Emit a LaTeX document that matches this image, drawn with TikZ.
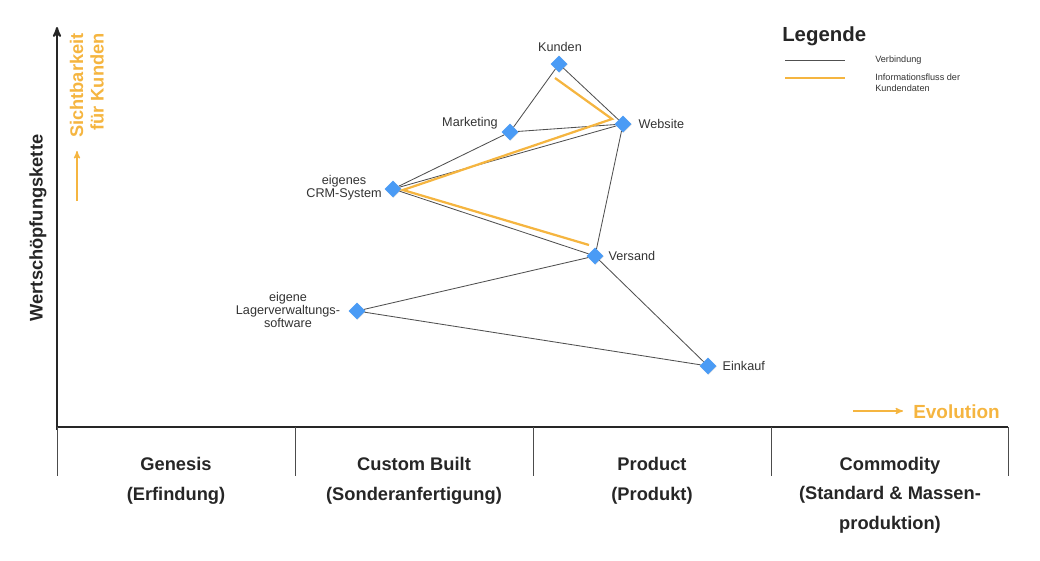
\documentclass[tikz,border=0pt]{standalone}
\usepackage{fontspec}
\setmainfont{Liberation Sans}
\usetikzlibrary{arrows,shapes.geometric,shadows,positioning}
\definecolor{wmblue}{HTML}{4A9BF5}
\definecolor{wmorange}{HTML}{F5B540}
\definecolor{wmgray}{HTML}{505050}
\tikzset{
  comp/.style = {diamond, fill=wmblue, inner sep=0pt, minimum size=0.42cm,
    drop shadow={opacity=0.25, shadow xshift=0.4pt, shadow yshift=-0.4pt}},% Komponente
  lbl/.style = {font=\fontsize{9}{9}\selectfont, text=black!80, align=center,
    inner sep=1pt},% Beschriftung
  link/.style = {draw=wmgray, line width=0.6pt},% Verbindung
  flow/.style = {draw=wmorange, line width=1.6pt, line join=miter},% Informationsfluss
  phase/.style = {font=\fontsize{13}{21}\selectfont\bfseries, text=black!85,
    align=center},% Evolutionsphase
  legtxt/.style = {font=\fontsize{6.5}{7.8}\selectfont, text=black!80,
    align=left, anchor=west, inner sep=0pt}
}

\begin{document}
\begin{tikzpicture}[x=0.025cm, y=-0.025cm, >=stealth']
\useasboundingbox (0,0) rectangle (1040,560);

% Achsen
\draw [->, line width=1.4pt, draw=black!85] (57,430) -- (57,27);
\draw [line width=1.9pt, draw=black!85] (56,427) -- (1008,427);
\foreach \x in {57,295,533,771,1008}
  \draw [line width=0.7pt, draw=black!70] (\x,427) -- (\x,476);

\node [phase] (genesis) at (176,481) {Genesis\\(Erfindung)};
\node [phase] (custom) at (414,481) {Custom Built\\(Sonderanfertigung)};
\node [phase] (product) at (652,481) {Product\\(Produkt)};
\node [phase, anchor=north] (commodity) at (890,452)
  {Commodity\\(Standard \& Massen-\\produktion)};

\node [rotate=90, font=\fontsize{13}{13}\selectfont\bfseries, text=black!85]
  (kette) at (38,228) {Wertschöpfungskette};
\node [rotate=90, anchor=south east, align=right, text=wmorange,
  font=\fontsize{13}{14.5}\selectfont\bfseries, inner sep=0pt]
  (sicht) at (104,33) {Sichtbarkeit\\für Kunden};
\coordinate (s1) at (77,201);
\coordinate (s2) at (77,151);
\draw [->, wmorange, line width=0.9pt] (s1) -- (s2);

\node [anchor=east, text=wmorange, font=\fontsize{13.5}{13.5}\selectfont\bfseries,
  inner sep=0pt] (evo) at (1000,412) {Evolution};
\coordinate (e1) at (853,411);
\coordinate (e2) at (903,411);
\draw [->, wmorange, line width=0.9pt] (e1) -- (e2);

% Legende
\node [anchor=west, font=\fontsize{14.5}{14.5}\selectfont\bfseries, text=black!85,
  inner sep=0pt] (legende) at (782,36) {Legende};
\coordinate (l1) at (785,60);
\coordinate (l2) at (845,60);
\coordinate (l3) at (785,78);
\coordinate (l4) at (845,78);
\draw [link] (l1) -- (l2);
\draw [flow] (l3) -- (l4);
\node [legtxt] (verb) at (875,60) {Verbindung};
\node [legtxt] (info) at (875,82.5) {Informationsfluss der\\Kundendaten};

% Komponenten
\node [comp] (kunden) at (559,64) {};
\node [comp] (website) at (623,124) {};
\node [comp] (marketing) at (510,132) {};
\node [comp] (crm) at (393,189) {};
\node [comp] (versand) at (595,256) {};
\node [comp] (lager) at (357,311) {};
\node [comp] (einkauf) at (708,366) {};

\node [lbl] at (560,47) {Kunden};
\node [lbl, anchor=west] at (637,124) {Website};
\node [lbl] at (470,123) {Marketing};
\node [lbl] at (344,188) {eigenes\\CRM-System};
\node [lbl] at (288,310) {eigene\\Lagerverwaltungs-\\software};
\node [lbl, anchor=west] at (607,256) {Versand};
\node [lbl, anchor=west] at (721,366) {Einkauf};

% Verbindungen
\draw [link] (kunden) -- (website);
\draw [link] (kunden) -- (marketing);
\draw [link] (marketing) -- (website);
\draw [link] (crm) -- (marketing);
\draw [link] (crm) -- (website);
\draw [link] (crm) -- (versand);
\draw [link] (website) -- (versand);
\draw [link] (versand) -- (lager);
\draw [link] (versand) -- (einkauf);
\draw [link] (lager) -- (einkauf);

% Informationsfluss
\coordinate (f1) at (555,78);
\coordinate (f2) at (612,119);
\coordinate (f3) at (403,190);
\coordinate (f4) at (589,245);
\draw [flow] (f1) -- (f2) -- (f3) -- (f4);
\end{tikzpicture}
\end{document}
